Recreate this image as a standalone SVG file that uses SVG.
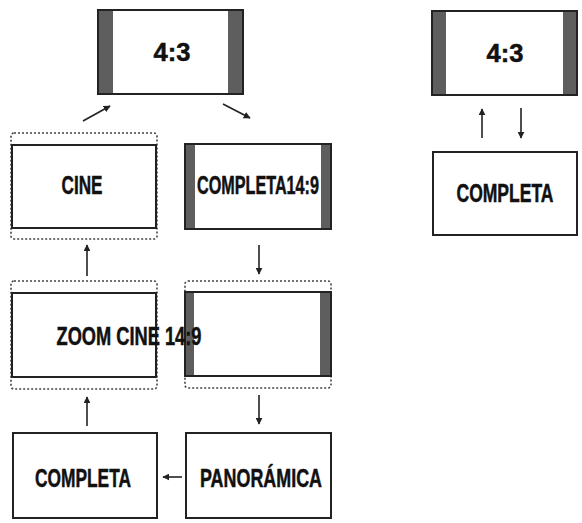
<svg xmlns="http://www.w3.org/2000/svg" width="582" height="523" viewBox="0 0 582 523">
<style>
.box{fill:#fff;stroke:#222;stroke-width:2}
.bar{fill:#5e5e5e}
.dash{fill:none;stroke:#444;stroke-width:1.6;stroke-dasharray:2 2}
.lbl{font-family:"Liberation Sans",Arial,sans-serif;font-weight:bold;font-size:25px;fill:#111;stroke:#111;stroke-width:0.5;text-anchor:middle}
.con{stroke:#222;stroke-width:1.6;fill:none;marker-end:url(#ah)}
</style>
<defs>
<marker id="ah" viewBox="0 0 10 10" refX="9" refY="5" markerWidth="7" markerHeight="7" markerUnits="userSpaceOnUse" orient="auto">
<path d="M0,0 L10,5 L0,10 Z" fill="#222"/>
</marker>
</defs>
<rect width="582" height="523" fill="#fff"/>

<g id="n-43-top">
<rect class="box" x="98" y="10" width="145" height="84"/>
<rect class="bar" x="99" y="11" width="14" height="82"/>
<rect class="bar" x="228" y="11" width="14" height="82"/>
<text class="lbl" x="172" y="61" textLength="37" lengthAdjust="spacingAndGlyphs">4:3</text>
</g>

<g id="n-cine">
<rect class="dash" x="11" y="133" width="146" height="106" rx="3"/>
<rect class="box" x="12" y="145" width="144" height="83"/>
<text class="lbl" x="82" y="194" textLength="41" lengthAdjust="spacingAndGlyphs">CINE</text>
</g>

<g id="n-completa149">
<rect class="box" x="185" y="144" width="146" height="85"/>
<rect class="bar" x="186" y="145" width="9" height="83"/>
<rect class="bar" x="321" y="145" width="9" height="83"/>
<text class="lbl" x="258" y="194" textLength="122" lengthAdjust="spacingAndGlyphs">COMPLETA14:9</text>
</g>

<g id="n-zoomcine">
<rect class="dash" x="11" y="281" width="146" height="108" rx="3"/>
<rect class="box" x="12" y="293" width="144" height="84"/>
</g>

<g id="n-pan149">
<rect class="dash" x="185" y="281" width="146" height="107" rx="3"/>
<rect class="box" x="185" y="292" width="146" height="84"/>
<rect class="bar" x="186" y="293" width="8" height="82"/>
<rect class="bar" x="320" y="293" width="10" height="82"/>
</g>

<g id="t-zoomcine">
<text class="lbl" x="129" y="345" textLength="145" lengthAdjust="spacingAndGlyphs">ZOOM CINE 14:9</text>
</g>

<g id="n-completa-bot">
<rect class="box" x="13" y="433" width="144" height="85"/>
<text class="lbl" x="83" y="487" textLength="96" lengthAdjust="spacingAndGlyphs">COMPLETA</text>
</g>

<g id="n-panoramica">
<rect class="box" x="186" y="433" width="145" height="85"/>
<text class="lbl" x="261" y="487" textLength="122" lengthAdjust="spacingAndGlyphs">PANORÁMICA</text>
</g>

<g id="n-43-right">
<rect class="box" x="432" y="11" width="145" height="84"/>
<rect class="bar" x="433" y="12" width="13" height="82"/>
<rect class="bar" x="563" y="12" width="13" height="82"/>
<text class="lbl" x="505" y="62" textLength="37" lengthAdjust="spacingAndGlyphs">4:3</text>
</g>

<g id="n-completa-right">
<rect class="box" x="433" y="152" width="144" height="83"/>
<text class="lbl" x="505" y="202" textLength="97" lengthAdjust="spacingAndGlyphs">COMPLETA</text>
</g>

<g id="connectors">
<line class="con" x1="83" y1="121" x2="110" y2="106"/>
<line class="con" x1="223" y1="104" x2="250" y2="118"/>
<line class="con" x1="87" y1="276" x2="87" y2="245"/>
<line class="con" x1="259" y1="245" x2="259" y2="274"/>
<line class="con" x1="259" y1="395" x2="259" y2="424"/>
<line class="con" x1="87" y1="426" x2="87" y2="397"/>
<line class="con" x1="182" y1="477" x2="163" y2="477"/>
<line class="con" x1="482" y1="138" x2="482" y2="109"/>
<line class="con" x1="521" y1="108" x2="521" y2="138"/>
</g>
</svg>
